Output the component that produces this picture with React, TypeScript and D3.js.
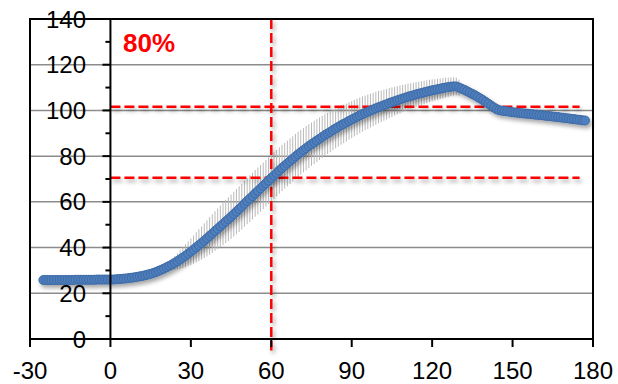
import React, { useEffect, useRef } from "react";
import * as d3 from "d3";

// ── Dados ────────────────────────────────────────────────────────────────────
const firstDay = -25;
const meanValues = [
  25.8, 25.8, 25.8, 25.8, 25.8, 25.8, 25.8, 25.8, 25.8, 25.8,
  25.8, 25.8, 25.9, 25.9, 25.9, 25.9, 25.9, 25.9, 25.9, 25.9,
  26.0, 26.0, 26.0, 26.0, 26.0,
  26.0, 26.0, 26.1, 26.2, 26.3, 26.4, 26.5, 26.7, 26.8, 27.0,
  27.2, 27.4, 27.6, 27.9, 28.2, 28.5, 28.9, 29.3, 29.8, 30.3,
  30.8, 31.4, 32.0, 32.6, 33.3, 34.0, 34.8, 35.6, 36.4, 37.3,
  38.2, 39.1, 40.1, 41.0, 42.0, 43.0, 44.0, 45.1, 46.1, 47.2,
  48.2, 49.3, 50.3, 51.4, 52.4, 53.5, 54.6, 55.7, 56.8, 57.9,
  59.2, 60.3, 61.4, 62.5, 63.7, 64.8, 65.9, 67.0, 68.1, 69.3,
  70.4, 71.5, 72.6, 73.7, 74.8, 75.8, 76.8, 77.8, 78.8, 79.8,
  80.8, 81.7, 82.6, 83.5, 84.4, 85.2, 86.0, 86.8, 87.6, 88.4,
  89.2, 89.9, 90.6, 91.4, 92.1, 92.8, 93.5, 94.1, 94.7, 95.4,
  96.0, 96.6, 97.2, 97.8, 98.4, 98.9, 99.4, 99.9, 100.4, 100.9,
  101.4, 101.8, 102.3, 102.7, 103.2, 103.6, 104.0, 104.4, 104.8, 105.2,
  105.6, 106.0, 106.3, 106.6, 107.0, 107.3, 107.6, 107.9, 108.2, 108.5,
  108.8, 109.0, 109.3, 109.5, 109.8, 110.0, 110.2, 110.4, 110.5, 110.5,
  110.0, 109.5, 109.0, 108.4, 107.8, 107.2, 106.6, 105.9, 105.2, 104.5,
  103.7, 102.9, 102.1, 101.3, 100.6, 100.1, 99.9, 99.7, 99.6, 99.4,
  99.2, 99.1, 99.0, 98.8, 98.7, 98.6, 98.5, 98.4, 98.2, 98.1,
  98.0, 97.9, 97.7, 97.6, 97.5, 97.3, 97.2, 97.1, 96.9, 96.8,
  96.6, 96.5, 96.3, 96.2, 96.0, 95.9, 95.7, 95.6,
];

const sdFirstDay = 18;
const sdValues = [
  0.5, 0.8, 1.2, 1.6, 2.0, 2.5, 3.0, 3.5, 4.0, 4.5, 5.0, 5.4,
  5.8, 6.2, 6.6, 7.0, 7.3, 7.6, 7.9, 8.2, 8.5, 8.7,
  8.9, 9.1, 9.3, 9.5, 9.6, 9.7, 9.8, 9.9, 10.0, 10.0,
  10.1, 10.1, 10.2, 10.2, 10.2, 10.2, 10.2, 10.2, 10.2, 10.2,
  10.2, 10.2, 10.1, 10.1, 10.1, 10.0, 10.0, 10.0, 9.9, 9.9,
  9.8, 9.8, 9.7, 9.7, 9.6, 9.5, 9.5, 9.4, 9.3, 9.2,
  9.1, 9.0, 8.9, 8.8, 8.7, 8.6, 8.5, 8.4, 8.3, 8.2,
  8.1, 8.0, 7.9, 7.8, 7.7, 7.6, 7.5, 7.4, 7.3, 7.2,
  7.1, 6.9, 6.8, 6.7, 6.6, 6.5, 6.3, 6.2, 6.1, 6.0,
  5.8, 5.7, 5.6, 5.5, 5.4, 5.3, 5.2, 5.1, 5.0, 4.9,
  4.8, 4.7, 4.6, 4.5, 4.4, 4.3, 4.2, 4.1, 4.0, 3.9, 3.5,
];

const xTicks = [-30, 0, 30, 60, 90, 120, 150, 180];
const yTicks = [0, 20, 40, 60, 80, 100, 120, 140];
const yMinorTicks = [10, 30, 50, 70, 90, 110, 130];
const refDay = 60;
const refLevels = [101.6, 70.5];
const refLevelEnd = 175;
const labelText = "80%";

type Point = { day: number; mean: number; sd: number };

const App: React.FC = () => {
  const svgRef = useRef<SVGSVGElement | null>(null);

  useEffect(() => {
    if (!svgRef.current) return;
    const W = 618;
    const H = 384;
    const plot = { left: 30, right: 593, top: 19, bottom: 339 };
    const font = "'Liberation Sans', Arial, sans-serif";

    const data: Point[] = meanValues.map((v, i) => {
      const day = firstDay + i;
      const k = day - sdFirstDay;
      return { day, mean: v, sd: k >= 0 && k < sdValues.length ? sdValues[k] : 0 };
    });

    const svg = d3.select(svgRef.current);
    svg.selectAll("*").remove();
    svg.attr("width", W).attr("height", H);

    const x = d3.scaleLinear().domain([-30, 180]).range([plot.left, plot.right]);
    const y = d3.scaleLinear().domain([0, 140]).range([plot.bottom, plot.top]);

    const defs = svg.append("defs");
    const sh = defs.append("filter").attr("id", "shadow")
      .attr("x", "-10%").attr("y", "-10%").attr("width", "130%").attr("height", "140%");
    sh.append("feDropShadow").attr("dx", 2).attr("dy", 3).attr("stdDeviation", 2)
      .attr("flood-color", "#000").attr("flood-opacity", 0.35);

    svg.append("rect").attr("width", W).attr("height", H).attr("fill", "#fff");

    // ── Grade ────────────────────────────────────────────────────────────────
    svg.append("g").selectAll("line")
      .data(yTicks.filter((t) => t > 0 && t < 140))
      .enter().append("line")
      .attr("x1", plot.left).attr("x2", plot.right)
      .attr("y1", (d) => y(d)).attr("y2", (d) => y(d))
      .attr("stroke", "#8c8c8c").attr("stroke-width", 1.5);

    // ── Barras de erro ───────────────────────────────────────────────────────
    svg.append("g").selectAll("line")
      .data(data.filter((d) => d.sd > 0))
      .enter().append("line")
      .attr("x1", (d) => x(d.day)).attr("x2", (d) => x(d.day))
      .attr("y1", (d) => y(d.mean - d.sd)).attr("y2", (d) => y(d.mean + d.sd))
      .attr("stroke", "#b9b9b9").attr("stroke-width", 1);

    // ── Linhas de referência ────────────────────────────────────────────────
    const refs = svg.append("g").attr("filter", "url(#shadow)")
      .attr("stroke", "#ff0000").attr("stroke-width", 2.5).attr("stroke-dasharray", "10,4");
    refs.selectAll("line.h").data(refLevels).enter().append("line")
      .attr("class", "h")
      .attr("x1", x(0)).attr("x2", x(refLevelEnd))
      .attr("y1", (d) => y(d)).attr("y2", (d) => y(d));
    refs.append("line")
      .attr("x1", x(refDay)).attr("x2", x(refDay))
      .attr("y1", y(140)).attr("y2", y(-5));

    // ── Marcadores ──────────────────────────────────────────────────────────
    svg.append("g").attr("filter", "url(#shadow)").selectAll("circle")
      .data(data).enter().append("circle")
      .attr("cx", (d) => x(d.day)).attr("cy", (d) => y(d.mean))
      .attr("r", 4.5)
      .attr("fill", "#4f7fbd").attr("stroke", "#3d6aa6").attr("stroke-width", 1);

    // ── Moldura e eixos ─────────────────────────────────────────────────────
    const axisG = svg.append("g").attr("stroke", "#000").attr("stroke-width", 2);
    axisG.append("path")
      .attr("fill", "none")
      .attr("d", `M${plot.left},${plot.bottom}V${plot.top}H${plot.right}V${plot.bottom}H${plot.left}`);
    axisG.append("line").attr("x1", x(0)).attr("x2", x(0)).attr("y1", plot.top).attr("y2", plot.bottom);
    axisG.selectAll("line.yt").data(yTicks).enter().append("line")
      .attr("x1", x(0) - 8).attr("x2", x(0)).attr("y1", (d) => y(d)).attr("y2", (d) => y(d));
    axisG.selectAll("line.ym").data(yMinorTicks).enter().append("line")
      .attr("x1", x(0) - 5).attr("x2", x(0)).attr("y1", (d) => y(d)).attr("y2", (d) => y(d));
    axisG.selectAll("line.xt").data(xTicks).enter().append("line")
      .attr("x1", (d) => x(d)).attr("x2", (d) => x(d)).attr("y1", plot.bottom).attr("y2", plot.bottom + 8);

    // ── Rótulos ─────────────────────────────────────────────────────────────
    svg.append("g").selectAll("text").data(yTicks).enter().append("text")
      .attr("x", 86).attr("y", (d) => y(d)).attr("dy", "0.36em")
      .attr("text-anchor", "end").attr("font-family", font).attr("font-size", 24)
      .attr("fill", "#000").text((d) => String(d));

    svg.append("g").selectAll("text").data(xTicks).enter().append("text")
      .attr("x", (d) => x(d)).attr("y", 379)
      .attr("text-anchor", "middle").attr("font-family", font).attr("font-size", 24)
      .attr("fill", "#000").text((d) => String(d));

    svg.append("text")
      .attr("x", 123).attr("y", 52)
      .attr("font-family", font).attr("font-size", 26).attr("font-weight", "bold")
      .attr("fill", "#ff0000").text(labelText);
  }, []);

  return (
    <div style={{ position: "absolute", left: 0, top: 0 }}>
      <svg ref={svgRef} style={{ display: "block" }} />
    </div>
  );
};

export default App;
